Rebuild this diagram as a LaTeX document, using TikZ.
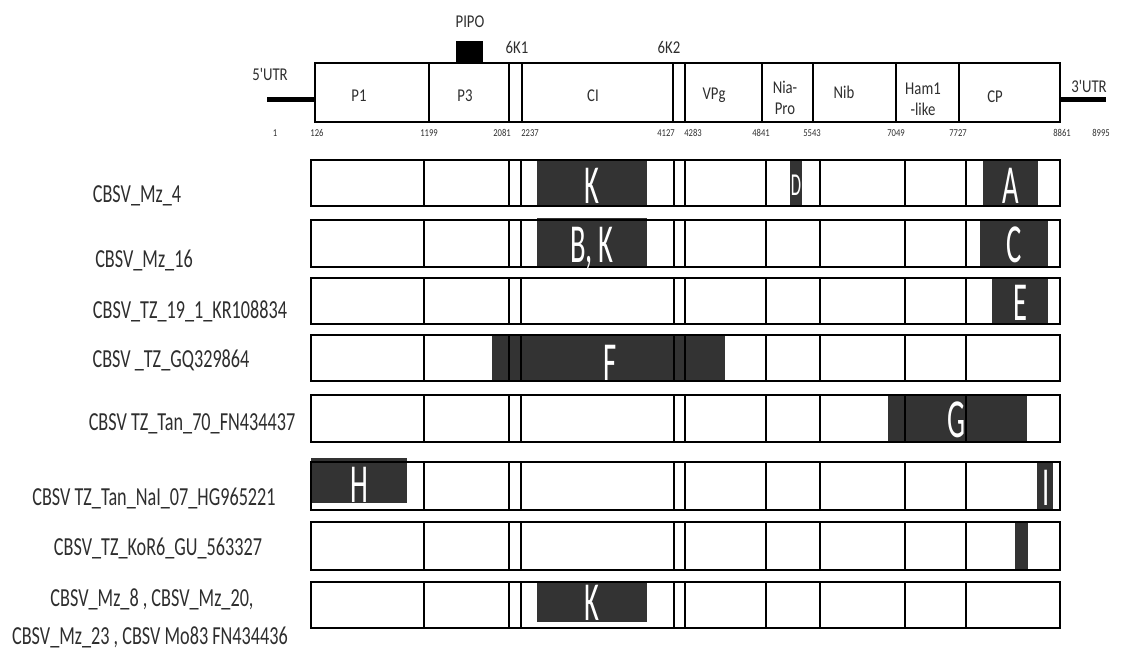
\documentclass[tikz,border=0pt]{standalone}
\usepackage{fontspec}
\setmainfont{Carlito}
\newfontfamily\labfont[FakeStretch=0.7]{Carlito}
\newfontfamily\topfont[FakeStretch=0.82]{Carlito}
\newfontfamily\mutfont[FakeStretch=0.52]{Carlito}
\usepackage{tikz}
\definecolor{mutgray}{HTML}{333333}
\definecolor{txtgray}{HTML}{2E2E2E}

\begin{document}
\begin{tikzpicture}[x=1pt, y=-1pt,
    seg/.style={line width=2.4pt},
    rowlab/.style={text=txtgray, font=\labfont\fontsize{26}{28}\selectfont, inner sep=0pt, anchor=base},
    toplab/.style={text=txtgray, font=\topfont\fontsize{18}{21}\selectfont, inner sep=0pt, anchor=base, align=center},
    ntlab/.style={text=txtgray, font=\topfont\fontsize{10.5}{11}\selectfont, inner sep=0pt, anchor=base},
    mutlab/.style={text=white, font=\mutfont\fontsize{55}{56}\selectfont, inner sep=0pt, anchor=base}]
    \useasboundingbox (0,0) rectangle (1125,651);

    % genome map
    \draw[line width=5pt] (267,99) -- (315,99);
    \draw[line width=5pt] (1060,99) -- (1106,99);
    \draw[line width=2.2pt] (315,63) rectangle (1060,122);
    \foreach \x in {429,509,522,673,685,762,813,896,959}
        \draw[line width=2.2pt] (\x,63) -- (\x,122);
    \fill (456,41) rectangle (483,63);

    \node[toplab] (utr5) at (270,80) {5'UTR};
    \node[toplab] (utr3) at (1089,92) {3'UTR};
    \node[toplab] (pipo) at (470,27) {PIPO};
    \node[toplab] (k1) at (517,53) {6K1};
    \node[toplab] (k2) at (669,53) {6K2};
    \node[toplab] (p1) at (359,101) {P1};
    \node[toplab] (p3) at (465,101) {P3};
    \node[toplab] (ci) at (593,101) {CI};
    \node[toplab] (vpg) at (714,99) {VPg};
    \node[toplab] (nia) at (785,114) {Nia-\\Pro};
    \node[toplab] (nib) at (844,98) {Nib};
    \node[toplab] (ham) at (923,115) {Ham1\\-like};
    \node[toplab] (cp) at (995,102) {CP};
    \foreach \x/\n in {275/1, 317/126, 429/1199, 502/2081, 530/2237, 666/4127, 693/4283,
        761/4841, 812/5543, 896/7049, 958/7727, 1062/8861, 1101/8995}
        \node[ntlab] (n\n) at (\x,136) {\n};

    % recombination regions
    \foreach \l/\r/\t/\b in {537/647/160/206, 790/802/160/206, 983/1038/160/206,
        537/647/218/267, 980/1048/220/267, 992/1048/278/324, 492/725/335/381,
        888/1027/395/442, 311/407/458/503, 1037/1053/462/510, 1015/1028/522/570,
        537/647/583/622}
        \fill[mutgray] (\l,\t) rectangle (\r,\b);

    % isolates
    \foreach \t/\b in {160/206, 220/267, 278/324, 335/381, 395/442, 462/510, 522/570, 582/628} {
        \draw[seg] (311,\t) rectangle (1060,\b);
        \foreach \x in {424,509,521,674,685,766,820,905,966}
            \draw[seg] (\x,\t) -- (\x,\b);
    }

    \node[mutlab] (mk1) at (592,203) {K};
    \node[mutlab, font=\mutfont\fontsize{32}{33}\selectfont] (md) at (796,195) {D};
    \node[mutlab] (ma) at (1011,203) {A};
    \node[mutlab] (mbk) at (592,262) {B, K};
    \node[mutlab] (mc) at (1014,262) {C};
    \node[mutlab] (me) at (1020,320) {E};
    \node[mutlab] (mf) at (610,380) {F};
    \node[mutlab] (mg) at (957,437) {G};
    \node[mutlab] (mh) at (359,502) {H};
    \node[mutlab] (mi) at (1046,505) {I};
    \node[mutlab] (mk8) at (592,620) {K};

    \node[rowlab] (mz4) at (137,202) {CBSV\_Mz\_4};
    \node[rowlab] (mz16) at (144,267) {CBSV\_Mz\_16};
    \node[rowlab] (kr) at (190,318) {CBSV\_TZ\_19\_1\_KR108834};
    \node[rowlab] (gq) at (171,367) {CBSV \_TZ\_GQ329864};
    \node[rowlab] (fn) at (192,430) {CBSV TZ\_Tan\_70\_FN434437};
    \node[rowlab] (hg) at (154,505) {CBSV TZ\_Tan\_NaI\_07\_HG965221};
    \node[rowlab] (gu) at (158,555) {CBSV\_TZ\_KoR6\_GU\_563327};
    \node[rowlab] (mz8) at (152,606) {CBSV\_Mz\_8 , CBSV\_Mz\_20,};
    \node[rowlab] (mz23) at (150,644) {CBSV\_Mz\_23 , CBSV Mo83 FN434436};
\end{tikzpicture}
\end{document}
